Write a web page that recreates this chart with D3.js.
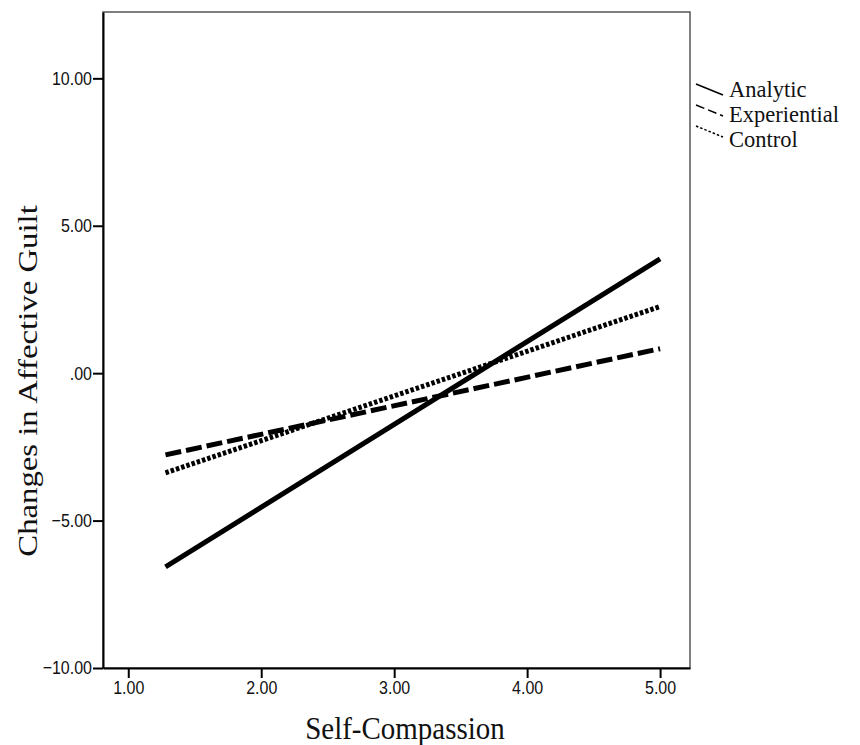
<!DOCTYPE html>
<html>
<head>
<meta charset="utf-8">
<script src="https://cdn.jsdelivr.net/npm/d3@7"></script>
<style>
  html, body { margin: 0; padding: 0; background: #fff; }
</style>
</head>
<body>
<div id="chart"></div>
<script>
// data
const groups = ["Analytic", "Experiential", "Control"];
const selfCompassion = [1.28, 5.0];
const analytic = [-6.57, 3.88];
const experiential = [-2.77, 0.83];
const control = [-3.38, 2.26];
const xTicks = [1, 2, 3, 4, 5];
const yTicks = [-10, -5, 0, 5, 10];

const series = [analytic, experiential, control];
const dashes = [null, "16,5", "3.5,2"];
const legendDashes = [null, "9,4", "2.5,2"];

const W = 860, H = 745;
const plot = { left: 103, right: 690, top: 12, bottom: 668 };

const svg = d3.select("#chart").append("svg")
  .attr("width", W).attr("height", H);

const x = d3.scaleLinear().domain([0.81, 5.225]).range([plot.left, plot.right]);
const y = d3.scaleLinear().domain([-10, 12.25]).range([plot.bottom, plot.top]);

const fmt = d => d3.format(".2f")(d).replace(/^0\./, ".");

// frame
svg.append("rect")
  .attr("x", plot.left).attr("y", plot.top)
  .attr("width", plot.right - plot.left).attr("height", plot.bottom - plot.top)
  .attr("fill", "none").attr("stroke", "#555").attr("stroke-width", 1.5);

// axes
const xAxis = svg.append("g")
  .attr("transform", `translate(0,${plot.bottom})`)
  .call(d3.axisBottom(x).tickValues(xTicks).tickFormat(fmt).tickSize(10).tickSizeOuter(0));
const yAxis = svg.append("g")
  .attr("transform", `translate(${plot.left},0)`)
  .call(d3.axisLeft(y).tickValues(yTicks).tickFormat(fmt).tickSize(10).tickSizeOuter(0));

[xAxis, yAxis].forEach(g => {
  g.attr("font-size", null).attr("font-family", null);
  g.select(".domain").attr("stroke", "#000").attr("stroke-width", 2);
  g.selectAll(".tick line").attr("stroke", "#000").attr("stroke-width", 2);
  g.selectAll(".tick text")
    .attr("fill", "#111")
    .attr("font-family", "'Liberation Sans', Arial, sans-serif")
    .attr("font-size", 16)
    .attr("transform", "scale(1,1.15)");
});
xAxis.selectAll(".tick text").attr("y", 11).attr("dy", "0.71em");
yAxis.selectAll(".tick text").attr("x", -11);

// regression lines
const line = d3.line()
  .x((d, i) => x(selfCompassion[i]))
  .y(d => y(d));

series.forEach((s, i) => {
  svg.append("path")
    .datum(s)
    .attr("d", line)
    .attr("fill", "none")
    .attr("stroke", "#000")
    .attr("stroke-width", 5)
    .attr("stroke-dasharray", dashes[i]);
});

// axis titles
svg.append("text")
  .attr("transform", `translate(405,739) scale(1,1.12)`)
  .attr("text-anchor", "middle")
  .style("font-family", "'Liberation Serif', 'Times New Roman', serif")
  .style("font-size", "29px")
  .attr("fill", "#111")
  .text("Self-Compassion");

svg.append("text")
  .attr("transform", `translate(37,381) scale(1,1.17) rotate(-90)`)
  .attr("text-anchor", "middle")
  .style("font-family", "'Liberation Serif', 'Times New Roman', serif")
  .style("font-size", "28px")
  .attr("fill", "#111")
  .text("Changes in Affective Guilt");

// legend
const legend = svg.append("g");
groups.forEach((g, i) => {
  const y0 = 84 + i * 21;
  legend.append("line")
    .attr("x1", 696).attr("y1", y0)
    .attr("x2", 723).attr("y2", y0 + 11)
    .attr("stroke", "#000").attr("stroke-width", 1.5)
    .attr("stroke-dasharray", legendDashes[i]);
  legend.append("text")
    .attr("x", 729).attr("y", 97 + i * 25)
    .style("font-family", "'Liberation Serif', 'Times New Roman', serif")
    .style("font-size", "22.5px")
    .attr("fill", "#111")
    .text(g);
});
</script>
</body>
</html>
